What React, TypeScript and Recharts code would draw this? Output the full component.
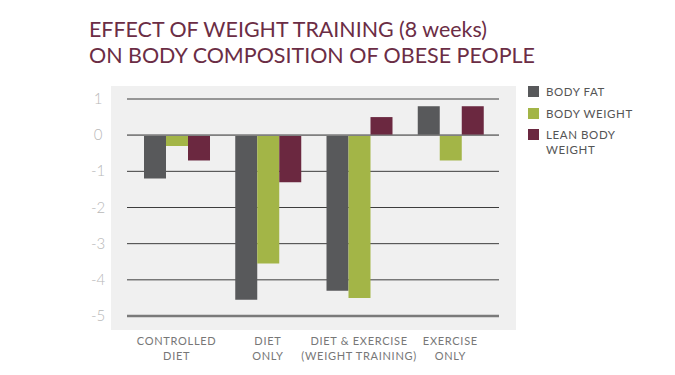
import { BarChart, Bar, XAxis, YAxis, CartesianGrid, ReferenceLine, Legend } from 'recharts'

const categoryLines = [
  ['CONTROLLED', 'DIET'],
  ['DIET', 'ONLY'],
  ['DIET & EXERCISE', '(WEIGHT TRAINING)'],
  ['EXERCISE', 'ONLY'],
]
const bodyFat = [-1.2, -4.55, -4.3, 0.8]
const bodyWeight = [-0.3, -3.55, -4.5, -0.7]
const leanBodyWeight = [-0.7, -1.3, 0.5, 0.8]
const yTicks = [1, 0, -1, -2, -3, -4, -5]
const titleLines = ['EFFECT OF WEIGHT TRAINING (8 weeks)', 'ON BODY COMPOSITION OF OBESE PEOPLE']

const data = categoryLines.map((lines, i) => ({
  name: lines.join(' '),
  fat: bodyFat[i],
  weight: bodyWeight[i],
  lean: leanBodyWeight[i],
}))

const FONT = 'Lato, "Open Sans", sans-serif'

function CategoryTick({ x, y, payload }: any) {
  const lines = categoryLines[payload.index] ?? [String(payload.value)]
  return (
    <text x={x} y={y} textAnchor="middle" fill="#777" fontSize={11} fontFamily={FONT} letterSpacing={0.7}>
      {lines.map((l, i) => (
        <tspan key={i} x={x} dy={i === 0 ? 21 : 15}>{l}</tspan>
      ))}
    </text>
  )
}

function ValueTick({ x, y, payload }: any) {
  return (
    <text x={x - 21} y={y} dy={5} textAnchor="middle" fill="#b8b8b8" fontSize={15} fontFamily={FONT} fontWeight={300}>
      {payload.value}
    </text>
  )
}

function LegendList({ payload }: any) {
  return (
    <div style={{ fontFamily: FONT, fontSize: 11.5, color: '#555', letterSpacing: 0.6 }}>
      {(payload ?? []).map((p: any) => (
        <div key={p.value} style={{ display: 'flex', alignItems: 'flex-start', marginBottom: 7, lineHeight: '14.5px' }}>
          <span style={{ width: 11, height: 11, background: p.color, marginTop: 1, marginRight: 7, flexShrink: 0 }} />
          <span style={{ width: 95 }}>{p.value}</span>
        </div>
      ))}
    </div>
  )
}

export default function App() {
  return (
    <div style={{ position: 'absolute', left: 0, top: 0, width: 675, height: 375, background: '#fff' }}>
      <svg width={675} height={80} style={{ position: 'absolute', left: 0, top: 0 }}>
        <text x={89} y={37} fill="#6b2d45" fontSize={21} fontFamily={FONT} textLength={398} lengthAdjust="spacingAndGlyphs">{titleLines[0]}</text>
        <text x={89} y={63} fill="#6b2d45" fontSize={21} fontFamily={FONT} textLength={446} lengthAdjust="spacingAndGlyphs">{titleLines[1]}</text>
      </svg>
      <div style={{ position: 'absolute', left: 111, top: 86, width: 405, height: 244, background: '#f0f0f0' }} />
      <div style={{ position: 'absolute', left: 0, top: 0 }}>
        <BarChart width={675} height={375} data={data} margin={{ top: 99, right: 176, bottom: 19, left: 0 }} barGap={0}>
          <CartesianGrid vertical={false} stroke="#3d3d3d" strokeWidth={1} />
          <XAxis
            dataKey="name"
            axisLine={false}
            tickLine={false}
            interval={0}
            height={40}
            padding={{ left: 4, right: 3 }}
            tick={(props: any) => <CategoryTick {...props} />}
          />
          <YAxis
            domain={[-5, 1]}
            ticks={yTicks}
            width={127}
            axisLine={false}
            tickLine={false}
            tick={(props: any) => <ValueTick {...props} />}
          />
          <ReferenceLine y={0} stroke="#808080" strokeWidth={1.5} />
          <ReferenceLine y={-5} stroke="#7a7a7a" strokeWidth={2.5} />
          <Bar dataKey="fat" name="BODY FAT" fill="#58595b" barSize={22} isAnimationActive={false} />
          <Bar dataKey="weight" name="BODY WEIGHT" fill="#a3b547" barSize={22} isAnimationActive={false} />
          <Bar dataKey="lean" name="LEAN BODY WEIGHT" fill="#6b2840" barSize={22} isAnimationActive={false} />
          <Legend
            layout="horizontal"
            verticalAlign="middle"
            align="center"
            content={(props: any) => <LegendList {...props} />}
            wrapperStyle={{ position: 'absolute', left: 528, top: 85, width: 140 }}
          />
        </BarChart>
      </div>
    </div>
  )
}
